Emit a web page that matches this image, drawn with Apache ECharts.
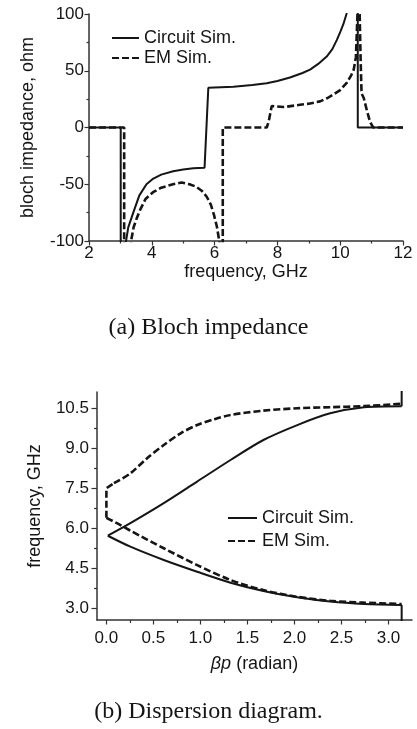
<!DOCTYPE html>
<html>
<head>
<meta charset="utf-8">
<script src="https://cdn.jsdelivr.net/npm/echarts@6/dist/echarts.min.js"></script>
<style>
  html, body { margin: 0; padding: 0; background: #fff; }
  #chart { width: 417px; height: 729px; }
</style>
</head>
<body>
<div id="chart"></div>
<script>
// (a) Bloch impedance: [frequency GHz, impedance ohm]
const circuitImpedance = [
  [2, 0], [3.01, 0], [3.01, -110], [3.18, -110], [3.18, -100], [3.25, -88], [3.41, -75],
  [3.6, -60], [3.83, -50], [4.05, -45], [4.3, -41.5], [4.68, -38.5], [5.0, -37],
  [5.32, -36], [5.68, -35.5], [5.72, -35], [5.8, 35], [6.2, 35.5], [6.6, 36],
  [7.2, 37.5], [7.66, 39], [8.0, 41], [8.4, 44], [8.8, 48], [9.04, 51], [9.3, 56],
  [9.57, 62.5], [9.75, 69], [9.89, 77], [10.0, 84], [10.1, 91], [10.2, 100],
  [10.25, 110], [10.56, 110], [10.56, 0], [12, 0]
]
const emImpedance = [
  [2, 0], [3.12, 0], [3.12, -110], [3.34, -110], [3.34, -100], [3.42, -88], [3.52, -80],
  [3.62, -73], [3.8, -63], [4.04, -57], [4.3, -53], [4.68, -50], [4.95, -48.5],
  [5.2, -50], [5.4, -52], [5.6, -56], [5.75, -61], [5.88, -68], [5.98, -77],
  [6.07, -87], [6.15, -100], [6.18, -110], [6.26, -110], [6.26, 0], [7.66, 0],
  [7.72, 5], [7.82, 19], [8.2, 18], [8.72, 20], [9.0, 21], [9.36, 23], [9.6, 26],
  [9.78, 29], [10.0, 33], [10.2, 39], [10.35, 46], [10.43, 51], [10.5, 62],
  [10.55, 100], [10.57, 110], [10.6, 110], [10.62, 100], [10.65, 60], [10.68, 30],
  [10.75, 26], [10.85, 15], [10.95, 5], [11.05, 0], [12, 0]
]

// (b) Dispersion diagram: [beta*p rad, frequency GHz], one array per branch
const circuitLower = [
  [0.015, 5.71], [0.255, 5.3], [0.61, 4.8], [0.965, 4.36], [1.32, 3.95], [1.67, 3.64],
  [2.03, 3.4], [2.38, 3.24], [2.74, 3.15], [3.14, 3.11]
]
const circuitUpper = [
  [0.015, 5.71], [0.255, 6.18], [0.61, 6.93], [0.965, 7.74], [1.32, 8.55], [1.67, 9.3],
  [2.03, 9.86], [2.38, 10.3], [2.74, 10.53], [3.14, 10.57]
]
const circuitEdge = [[3.14, 2.4], [3.14, 3.11], null, [3.14, 10.57], [3.14, 11.3]]
const emLower = [
  [0, 6.38], [0.15, 6.11], [0.255, 5.9], [0.61, 5.24], [0.965, 4.61], [1.32, 4.05],
  [1.67, 3.67], [2.03, 3.42], [2.38, 3.27], [2.74, 3.2], [3.14, 3.15]
]
const emUpper = [
  [0.08, 7.68], [0.255, 8.05], [0.43, 8.61], [0.61, 9.11],
  [0.79, 9.55], [0.965, 9.86], [1.14, 10.07], [1.32, 10.24], [1.67, 10.4],
  [2.03, 10.49], [2.38, 10.53], [2.74, 10.57], [3.14, 10.66]
]
const emEdge = [[0, 6.38], [0, 7.49], [0.08, 7.68]]

const betaTicks = [0, 0.5, 1.0, 1.5, 2.0, 2.5, 3.0]
const betaMinorTicks = [0.25, 0.75, 1.25, 1.75, 2.25, 2.75]
const freqTicks = [3.0, 4.5, 6.0, 7.5, 9.0, 10.5]
const freqMinorTicks = [3.75, 5.25, 6.75, 8.25, 9.75]
const seriesNames = ['Circuit Sim.', 'EM Sim.']

const FONT = '"Liberation Sans", Arial, sans-serif'
const SERIF = '"Liberation Serif", "Times New Roman", serif'
const INK = '#151515'
const AXIS = '#333'

const chart = echarts.init(document.getElementById('chart'), null, { renderer: 'canvas' })

const axisBase = {
  type: 'value',
  axisLine: { show: true, onZero: false, lineStyle: { color: AXIS, width: 1.5 } },
  axisTick: { show: true, length: 4.5, lineStyle: { color: AXIS, width: 1.2 } },
  axisLabel: { color: INK, fontFamily: FONT, fontSize: 17 },
  splitLine: { show: false },
  nameLocation: 'middle',
  nameTextStyle: { color: INK, fontFamily: FONT, fontSize: 18 },
}
const minorTick = { show: true, splitNumber: 2, length: 2.5, lineStyle: { color: AXIS, width: 1.2 } }

function minorAxis(gridIndex, min, max, values, position) {
  return {
    type: 'value', gridIndex, min, max, position,
    axisLine: { show: false, onZero: false },
    axisTick: { show: true, length: 3, customValues: values, lineStyle: { color: AXIS, width: 1.2 } },
    axisLabel: { show: false },
    splitLine: { show: false },
  }
}

const solid = { color: INK, width: 2 }
const dashed = { color: INK, width: 2.6, type: [7, 3] }
const legendBase = {
  data: seriesNames, orient: 'vertical', itemHeight: 14, selectedMode: false,
  itemStyle: { opacity: 0 },
  textStyle: { fontFamily: FONT, fontSize: 18, lineHeight: 20, color: INK },
}

function lineSeries(name, grid, data, lineStyle, smooth) {
  return {
    name, type: 'line', xAxisIndex: grid, yAxisIndex: grid, data,
    symbol: 'none', lineStyle, clip: true, smooth: smooth ? 0.3 : false,
  }
}

const option = {
  animation: false,
  backgroundColor: '#fff',
  color: [INK, INK],
  title: [
    { text: '(a) Bloch impedance', left: 'center', top: 311,
      textStyle: { fontFamily: SERIF, fontSize: 24, fontWeight: 'normal', color: INK } },
    { text: '(b) Dispersion diagram.', left: 'center', top: 695,
      textStyle: { fontFamily: SERIF, fontSize: 24, fontWeight: 'normal', color: INK } },
  ],
  legend: [
    { ...legendBase, left: 106, top: 23, itemGap: 0, itemWidth: 27 },
    { ...legendBase, left: 222, top: 503, itemGap: 3, itemWidth: 29 },
  ],
  grid: [
    { left: 89, top: 14, width: 314, height: 227 },
    { left: 97, top: 392, width: 315, height: 228 },
  ],
  xAxis: [
    { ...axisBase, gridIndex: 0, min: 2, max: 12, interval: 2, minorTick,
      axisLabel: { ...axisBase.axisLabel, margin: 4 },
      name: 'frequency, GHz', nameGap: 21 },
    { ...axisBase, gridIndex: 1, min: -0.1, max: 3.25, position: 'bottom',
      axisTick: { ...axisBase.axisTick, customValues: betaTicks },
      axisLabel: { ...axisBase.axisLabel, margin: 10, customValues: betaTicks,
        formatter: v => v.toFixed(1) },
      name: '{i|βp} (radian)', nameGap: 35,
      nameTextStyle: { ...axisBase.nameTextStyle,
        rich: { i: { fontStyle: 'italic', fontFamily: FONT, fontSize: 18, color: INK } } } },
    minorAxis(1, -0.1, 3.25, betaMinorTicks, 'bottom'),
  ],
  yAxis: [
    { ...axisBase, gridIndex: 0, min: -100, max: 100, interval: 50, minorTick,
      axisLabel: { ...axisBase.axisLabel, margin: 5 },
      name: 'bloch impedance, ohm', nameGap: 52 },
    { ...axisBase, gridIndex: 1, min: 2.55, max: 11.1, position: 'left',
      axisTick: { ...axisBase.axisTick, length: 5.5, customValues: freqTicks },
      axisLabel: { ...axisBase.axisLabel, margin: 8, customValues: freqTicks,
        formatter: v => v.toFixed(1) },
      name: 'frequency, GHz', nameGap: 53 },
    minorAxis(1, 2.55, 11.1, freqMinorTicks, 'left'),
  ],
  series: [
    lineSeries(seriesNames[0], 0, circuitImpedance, solid, false),
    lineSeries(seriesNames[1], 0, emImpedance, dashed, false),
    lineSeries(seriesNames[0], 1, circuitLower, solid, true),
    lineSeries(seriesNames[0], 1, circuitUpper, solid, true),
    lineSeries(seriesNames[0], 1, circuitEdge, solid, false),
    lineSeries(seriesNames[1], 1, emLower, dashed, true),
    lineSeries(seriesNames[1], 1, emUpper, dashed, true),
    lineSeries(seriesNames[1], 1, emEdge, dashed, false),
  ],
}

chart.setOption(option)
</script>
</body>
</html>
